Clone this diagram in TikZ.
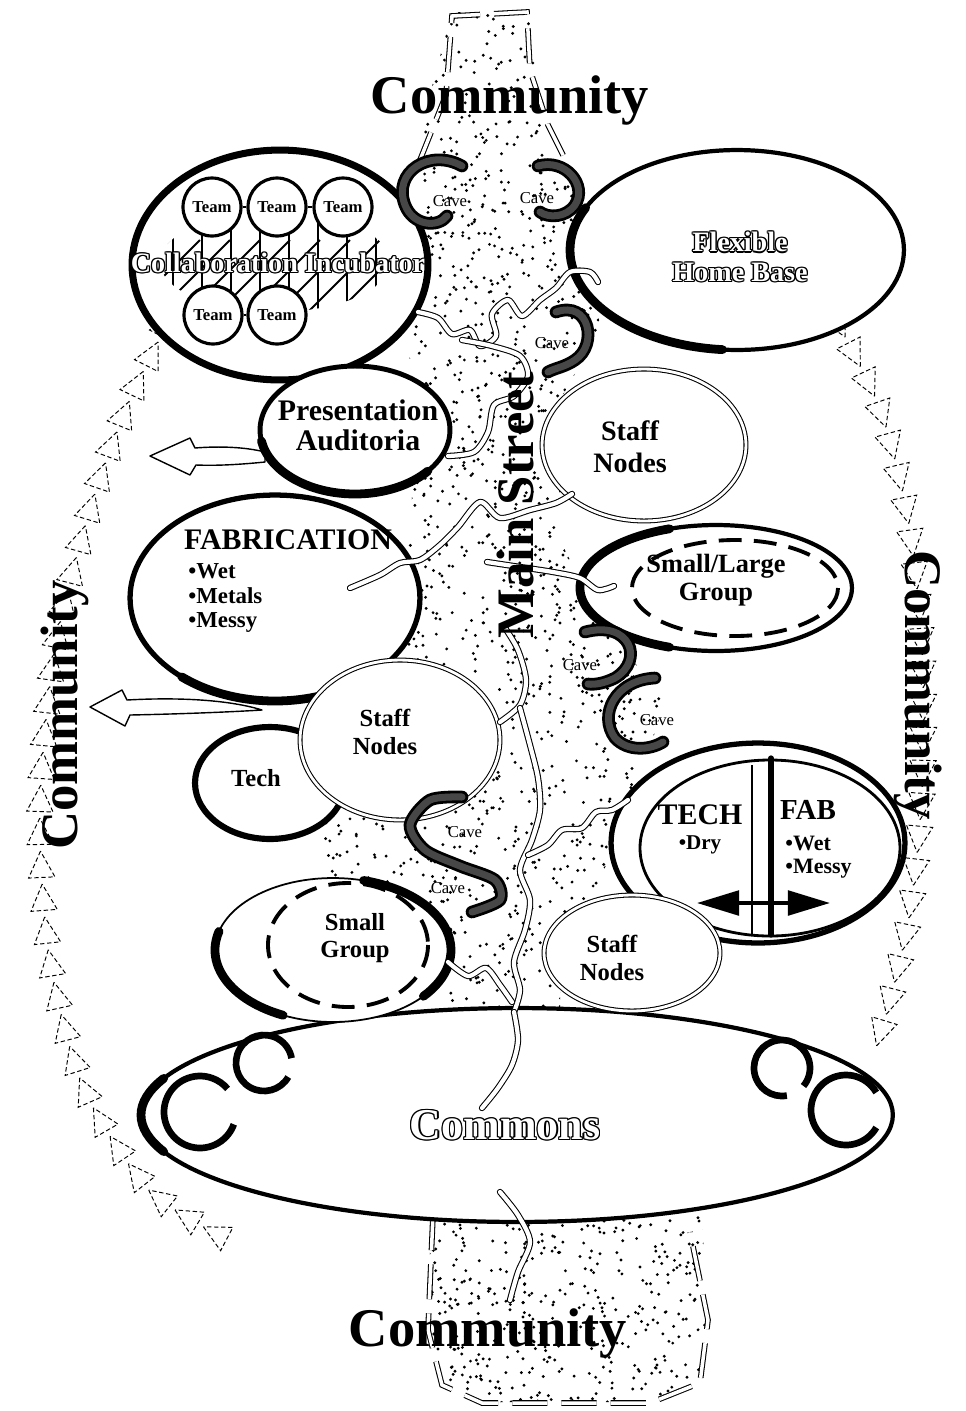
\documentclass[tikz,border=0pt]{standalone}
\usepackage{fontspec}
\setmainfont{Liberation Serif}
\usepackage{tikz}
\usetikzlibrary{shapes.geometric,arrows.meta,calc,decorations.markings}

% outlined lettering
\newcommand\hollow[1]{\leavevmode
  \rlap{\kern-.75pt#1}\rlap{\kern.75pt#1}%
  \rlap{\raisebox{.75pt}{#1}}\rlap{\raisebox{-.75pt}{#1}}%
  \rlap{\kern-.55pt\raisebox{.55pt}{#1}}\rlap{\kern.55pt\raisebox{.55pt}{#1}}%
  \rlap{\kern-.55pt\raisebox{-.55pt}{#1}}\rlap{\kern.55pt\raisebox{-.55pt}{#1}}%
  \textcolor{white}{#1}}

\tikzset{
    % ellipse from pixel radii
    ell/.style 2 args={ellipse, minimum width=#1*0.04cm, minimum height=#2*0.04cm, inner sep=0pt},
    % Room outline
    roomring/.style={draw=black, fill=white, line width=2.4pt},
    % Staff outline
    staffring/.style={draw=black, fill=white, double=white, double distance=1.6pt, line width=0.6pt},
    % Heavy side of an outline
    crescent/.style={line width=5pt, line cap=round},
    % Inner group outline
    dashring/.style={draw=black, line width=2.2pt, dash pattern=on 13pt off 7pt},
    % Team circle
    teamring/.style={circle, draw=black, fill=white, line width=1.8pt, minimum size=1.16cm, inner sep=0pt, font=\fontsize{9.5}{10}\selectfont\bfseries},
    cave/.style={draw=black, double=black!72, double distance=4pt, line width=1.6pt, line cap=round},
    stream/.style={draw=black, double=white, double distance=2.4pt, line width=0.6pt, line cap=round, line join=round},
    streetedge/.style={draw=black, double=white, double distance=2pt, line width=0.6pt, dash pattern=on 20pt off 8pt},
    roomtext/.style={align=center, inner sep=0pt, font=\bfseries\fontsize{16}{18}\selectfont},
    cavetext/.style={font=\fontsize{9.5}{10}\selectfont, inner sep=0pt},
    community/.style={inner sep=0pt, font=\bfseries\fontsize{31}{32}\selectfont},
    hollowarrow/.style={draw=black, fill=white, line width=0.8pt, line join=round},
    arrowchain/.style={decoration={markings, mark=between positions 0.01 and 0.99 step 0.66cm with {\draw[line width=0.55pt, dash pattern=on 2.5pt off 1.5pt] (8pt,0pt) -- (-7pt,7.5pt) -- (-7pt,-7.5pt) -- cycle;}}, postaction={decorate}},
    ringmark/.style={draw=black, line width=3.8pt}
}

\begin{document}
\begin{tikzpicture}[x=0.02cm, y=-0.02cm]
    \useasboundingbox (0,0) rectangle (966,1411);

    % Main Street stipple
    \begin{scope}
        \clip (452,12) -- (528,12) -- (548,140) -- (590,230) -- (600,330) -- (560,400) -- (560,540) -- (600,620) -- (665,700) -- (640,780) -- (600,880) -- (560,960) -- (560,1040) -- (400,1040) -- (340,960) -- (320,880) -- (330,700) -- (400,620) -- (410,520) -- (420,400) -- (400,320) -- (425,230) -- (415,150) -- cycle;
        \pgfmathsetseed{11}
        \foreach \i in {1,...,2500}{
            \pgfmathsetmacro\sx{300+380*rnd}
            \pgfmathsetmacro\sy{10+1030*rnd}
            \fill (\sx,\sy) circle[radius=1.6];
        }
    \end{scope}
    % street below the Commons
    \begin{scope}
        \clip (432,1185) -- (700,1185) -- (708,1320) -- (700,1385) -- (660,1402) -- (470,1402) -- (440,1385) -- (428,1320) -- cycle;
        \foreach \i in {1,...,480}{
            \pgfmathsetmacro\sx{425+290*rnd}
            \pgfmathsetmacro\sy{1185+220*rnd}
            \fill (\sx,\sy) circle[radius=1.6];
        }
    \end{scope}
    \draw[streetedge] (418,165) -- (446,95) -- (452,16) -- (527,12) -- (530,70) -- (548,125) -- (568,165);
    \draw[streetedge] (433,1215) -- (428,1330) -- (442,1385) -- (482,1403) -- (650,1403) -- (700,1383) -- (708,1320) -- (690,1232);

    % Community flow
    \path[arrowchain] plot[smooth] coordinates {(225,1238) (150,1190) (85,1090) (50,960) (40,810) (55,650) (90,510) (130,400) (180,300)};
    \path[arrowchain] plot[smooth] coordinates {(835,318) (880,410) (908,520) (922,650) (922,790) (910,910) (890,1000) (872,1060)};

    % Hollow arrows
    \draw[hollowarrow] (150,456) -- (190,438) -- (195,448) .. controls (220,446) and (245,447) .. (265,452) -- (265,462) .. controls (245,464) and (220,466) .. (196,465) -- (190,475) -- cycle;
    \draw[hollowarrow] (90,707) -- (122,690) -- (127,700) .. controls (180,697) and (230,700) .. (262,710) .. controls (230,712) and (180,714) .. (130,715) -- (125,726) -- cycle;

    % Collaboration Incubator
    \node[roomring, line width=4pt, ell={148}{115}] (incub) at (280,265) {};
    \begin{scope}
        \clip (275,262) ellipse [x radius=115, y radius=50];
        \foreach \k in {0,...,14}
            \draw[line width=1.1pt] (40+\k*30,340) -- ++(100,-100);
        \foreach \k in {0,...,8}
            \draw[line width=1.1pt] (173+\k*29,200) -- ++(0,130);
    \end{scope}
    \node[teamring] (t1) at (212,207) {Team};
    \node[teamring] (t2) at (277,207) {Team};
    \node[teamring] (t3) at (343,207) {Team};
    \node[teamring] (t4) at (213,315) {Team};
    \node[teamring] (t5) at (277,315) {Team};
    \draw[line width=1pt] (t1) -- (t2);
    \draw[line width=1pt] (t2) -- (t3);
    \draw[line width=1pt] (t4) -- (t5);
    \node[roomtext] (incubt) at (278,263) {\hollow{Collaboration Incubator}};

    % Flexible Home Base
    \node[roomring, ell={167}{100}] (hb) at (737,250) {};
    \draw[crescent] (hb.center) ++(95:167 and 100) arc[start angle=95, end angle=205, x radius=167, y radius=100];
    \node[roomtext, font=\bfseries\fontsize{16}{17}\selectfont] (hbt) at (740,257) {\hollow{Flexible}\\\hollow{Home Base}};

    % Presentation Auditoria
    \node[roomring, line width=2.8pt, ell={95}{64}] (pres) at (355,430) {};
    \draw[crescent] (pres.center) ++(40:95 and 64) arc[start angle=40, end angle=170, x radius=95, y radius=64];
    \node[roomtext, font=\bfseries\fontsize{17}{17}\selectfont] (prest) at (358,425) {Presentation\\Auditoria};

    % Staff Nodes (upper)
    \node[staffring, ell={102}{76}] (staff1) at (644,445) {};
    \node[roomtext] (staff1t) at (630,447) {Staff\\Nodes};

    % Fabrication
    \node[roomring, line width=3pt, ell={145}{103}] (fab) at (275,598) {};
    \draw[crescent] (fab.center) ++(50:145 and 103) arc[start angle=50, end angle=130, x radius=145, y radius=103];
    \node[roomtext, font=\bfseries\fontsize{17}{18}\selectfont] (fabt) at (288,540) {FABRICATION};
    \node[roomtext, align=left, anchor=west, font=\bfseries\fontsize{13}{14.2}\selectfont] (fabl) at (188,598) {•Wet\\•Metals\\•Messy};

    % Tech and Staff Nodes (middle)
    \node[roomring, line width=3.5pt, ell={75}{56}] (tech) at (270,783) {};
    \node[roomtext, font=\bfseries\fontsize{14}{16}\selectfont] (techt) at (256,778) {Tech};
    \node[staffring, ell={100}{80}] (staff2) at (400,740) {};
    \node[roomtext, font=\bfseries\fontsize{14}{16}\selectfont] (staff2t) at (385,732) {Staff\\Nodes};

    % Small/Large Group
    \node[roomring, ell={136}{63}] (slg) at (716,588) {};
    \draw[crescent] (slg.center) ++(110:136 and 63) arc[start angle=110, end angle=250, x radius=136, y radius=63];
    \draw[dashring] (735,588) ellipse [x radius=103, y radius=48];
    \node[roomtext, font=\bfseries\fontsize{15}{16}\selectfont] (slgt) at (716,580) {Small/Large\\Group};

    % TECH / FAB
    \node[roomring, line width=3pt, ell={147}{100}] (tf) at (758,843) {};
    \draw[line width=1.6pt] (770,848) ellipse [x radius=130, y radius=88];
    \draw[line width=0.8pt] (752,765) -- (752,935);
    \draw[line width=3pt, line cap=round] (771,758) -- (771,935);
    \coordinate (tfL) at (697,903);
    \coordinate (tfR) at (830,903);
    \draw[line width=2.2pt, {Triangle[length=24pt,width=14pt]}-{Triangle[length=24pt,width=14pt]}] (tfL) -- (tfR);
    \node[roomtext, font=\bfseries\fontsize{17}{18}\selectfont] (techl) at (700,815) {TECH};
    \node[roomtext, font=\bfseries\fontsize{12}{13}\selectfont] (dryl) at (700,845) {•Dry};
    \node[roomtext, font=\bfseries\fontsize{16.5}{18}\selectfont] (fabh) at (808,810) {FAB};
    \node[roomtext, align=left, anchor=west, font=\bfseries\fontsize{12.5}{13}\selectfont] (fabw) at (785,857) {•Wet\\•Messy};

    % Commons
    \node[roomring, ell={376}{107}] (commons) at (517,1115) {};
    \draw[crescent] (commons.center) ++(160:376 and 107) arc[start angle=160, end angle=200, x radius=376, y radius=107];
    \draw[ringmark] (200,1112) ++(20:36) arc[start angle=20, end angle=320, radius=36];
    \draw[ringmark] (264,1063) ++(30:28) arc[start angle=30, end angle=350, radius=28];
    \draw[ringmark] (782,1068) ++(80:28) arc[start angle=80, end angle=400, radius=28];
    \draw[ringmark] (846,1110) ++(30:35) arc[start angle=30, end angle=330, radius=35];
    \node[roomtext, font=\bfseries\fontsize{25}{26}\selectfont] (commonst) at (505,1125) {\hollow{Commons}};

    % Small Group and Staff Nodes (lower)
    \node[draw=black, fill=white, line width=1pt, ell={118}{72}] (small) at (333,950) {};
    \draw[crescent] (small.center) ++(-75:118 and 72) arc[start angle=-75, end angle=40, x radius=118, y radius=72];
    \draw[crescent] (small.center) ++(115:118 and 72) arc[start angle=115, end angle=195, x radius=118, y radius=72];
    \draw[dashring] (348,945) ellipse [x radius=80, y radius=62];
    \node[roomtext, font=\bfseries\fontsize{14}{15}\selectfont] (smallt) at (355,938) {Small\\Group};
    \node[staffring, ell={88}{58}] (staff3) at (632,953) {};
    \node[roomtext, font=\bfseries\fontsize{14}{16}\selectfont] (staff3t) at (612,958) {Staff\\Nodes};

    % Streams
    \draw[stream] plot[smooth] coordinates {(418,312) (438,318) (452,334) (470,330) (480,346) (496,336) (492,314) (508,300) (522,316) (540,300) (556,288) (570,272) (590,272) (598,282)};
    \draw[stream] plot[smooth] coordinates {(448,456) (474,452) (488,432) (494,405) (514,396) (528,376) (520,356) (492,346) (462,340)};
    \draw[stream] plot[smooth] coordinates {(350,588) (380,575) (400,563) (420,560) (440,545) (458,527) (480,502) (500,518) (530,510) (556,503) (572,494)};
    \draw[stream] plot[smooth] coordinates {(487,562) (520,567) (553,572) (580,578) (598,590) (614,586)};
    \draw[stream] plot[smooth] coordinates {(505,628) (518,650) (526,680) (520,705) (500,722)};
    \draw[stream] plot[smooth] coordinates {(520,708) (530,745) (538,778) (540,810) (532,840) (520,870) (530,900) (525,930) (514,962) (520,990) (514,1012)};
    \draw[stream] plot[smooth] coordinates {(528,855) (548,845) (562,830) (582,828) (596,812) (612,810) (628,800)};
    \draw[stream] plot[smooth] coordinates {(448,962) (468,976) (486,968) (500,985) (512,1002)};
    \draw[stream] plot[smooth] coordinates {(514,1012) (518,1040) (512,1065) (498,1088) (482,1108)};
    \draw[stream] plot[smooth] coordinates {(500,1192) (518,1215) (530,1242) (518,1272) (510,1300)};

    % Caves
    \draw[cave] (462,166) .. controls (430,148) and (392,172) .. (405,205) .. controls (413,226) and (438,228) .. (447,216);
    \draw[cave] (538,166) .. controls (565,158) and (588,185) .. (575,205) .. controls (566,218) and (548,218) .. (540,212);
    \draw[cave] (556,312) .. controls (590,300) and (598,345) .. (575,360) .. controls (565,367) and (555,368) .. (548,372);
    \draw[cave] (585,632) .. controls (630,620) and (645,660) .. (615,678) .. controls (605,683) and (595,685) .. (588,684);
    \draw[cave] (655,678) .. controls (615,680) and (598,715) .. (615,738) .. controls (628,752) and (650,750) .. (663,742);
    \draw[cave] plot[smooth] coordinates {(462,797) (430,800) (410,825) (425,850) (460,866) (495,880) (500,900) (472,912)};
    \node[cavetext] (cv1) at (450,201) {Cave};
    \node[cavetext] (cv2) at (537,198) {Cave};
    \node[cavetext] (cv3) at (552,343) {Cave};
    \node[cavetext] (cv4) at (580,665) {Cave};
    \node[cavetext] (cv5) at (657,720) {Cave};
    \node[cavetext] (cv6) at (465,832) {Cave};
    \node[cavetext] (cv7) at (448,888) {Cave};

    % Labels
    \node[rotate=90, inner sep=0pt, font=\bfseries\fontsize{30}{30}\selectfont] (mainst) at (515,505) {Main Street};
    \node[community] (comtop) at (510,100) {Community};
    \node[community] (combot) at (488,1333) {Community};
    \node[community, rotate=90, font=\bfseries\fontsize{30}{30}\selectfont] (comleft) at (65,715) {Community};
    \node[community, rotate=-90, font=\bfseries\fontsize{30}{30}\selectfont] (comright) at (918,685) {Community};
\end{tikzpicture}
\end{document}
